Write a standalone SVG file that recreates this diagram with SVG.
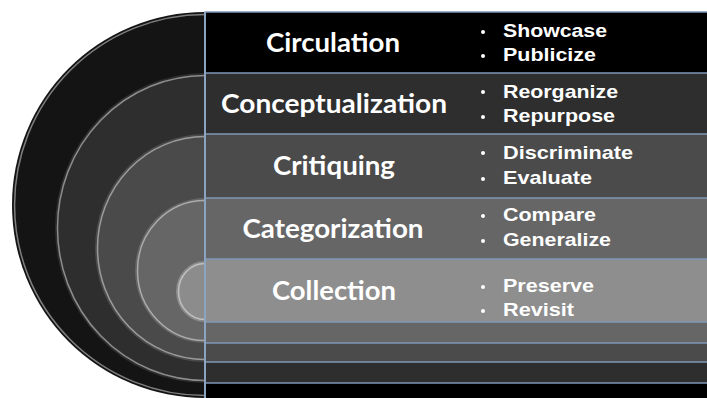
<svg xmlns="http://www.w3.org/2000/svg" width="707" height="398" viewBox="0 0 707 398">
<style>
.row{stroke:#7f98ba;stroke-width:1.5}
.hl{fill:none;stroke:#ffffff;stroke-opacity:0.45;stroke-width:1.5}
.title{font-family:Lato,"Open Sans",sans-serif;font-weight:700;font-size:27px;fill:#ffffff;text-anchor:middle}
.item{font-family:"Liberation Sans",Arial,sans-serif;font-weight:700;font-size:19px;fill:#ffffff}
.dot{fill:#ffffff}
</style>
<rect width="707" height="398" fill="#ffffff"/>
<g id="circulation">
<path d="M205,12 A193,193 0 0 0 205,398 Z" fill="#141414"/>
<path class="hl" d="M205,14.5 A190.5,190.5 0 0 0 205,395.5"/>
<rect class="row" x="205" y="12" width="503" height="390" fill="#000000"/>
<text class="title" x="333" y="52" textLength="134" lengthAdjust="spacingAndGlyphs">Circulation</text>
<circle class="dot" cx="483" cy="32" r="2"/>
<circle class="dot" cx="483" cy="56" r="2"/>
<text class="item" x="503" y="37" textLength="104" lengthAdjust="spacingAndGlyphs">Showcase</text>
<text class="item" x="503" y="61" textLength="93" lengthAdjust="spacingAndGlyphs">Publicize</text>
</g>
<g id="conceptualization">
<path d="M205,73 A150,155 0 0 0 205,383 Z" fill="#2e2e2e"/>
<path class="hl" d="M205,75.5 A147.5,152.5 0 0 0 205,380.5"/>
<rect class="row" x="205" y="73" width="503" height="310" fill="#2e2e2e"/>
<text class="title" x="334" y="113" textLength="226" lengthAdjust="spacingAndGlyphs">Conceptualization</text>
<circle class="dot" cx="483" cy="92" r="2"/>
<circle class="dot" cx="483" cy="117" r="2"/>
<text class="item" x="503" y="98" textLength="115" lengthAdjust="spacingAndGlyphs">Reorganize</text>
<text class="item" x="503" y="122" textLength="112" lengthAdjust="spacingAndGlyphs">Repurpose</text>
</g>
<g id="critiquing">
<path d="M205,134 A110,114 0 0 0 205,362 Z" fill="#4a4a4a"/>
<path class="hl" d="M205,136.5 A107.5,111.5 0 0 0 205,359.5"/>
<rect class="row" x="205" y="134" width="503" height="228" fill="#4b4b4b"/>
<text class="title" x="334" y="175" textLength="122" lengthAdjust="spacingAndGlyphs">Critiquing</text>
<circle class="dot" cx="483" cy="153" r="2"/>
<circle class="dot" cx="483" cy="179" r="2"/>
<text class="item" x="503" y="159" textLength="130" lengthAdjust="spacingAndGlyphs">Discriminate</text>
<text class="item" x="503" y="184" textLength="89" lengthAdjust="spacingAndGlyphs">Evaluate</text>
</g>
<g id="categorization">
<path d="M205,198 A70,72.5 0 0 0 205,343 Z" fill="#666666"/>
<path class="hl" d="M205,200.5 A67.5,70 0 0 0 205,340.5"/>
<rect class="row" x="205" y="198" width="503" height="145" fill="#666666"/>
<text class="title" x="333" y="238" textLength="181" lengthAdjust="spacingAndGlyphs">Categorization</text>
<circle class="dot" cx="483" cy="216" r="2"/>
<circle class="dot" cx="483" cy="241" r="2"/>
<text class="item" x="503" y="221" textLength="93" lengthAdjust="spacingAndGlyphs">Compare</text>
<text class="item" x="503" y="246" textLength="108" lengthAdjust="spacingAndGlyphs">Generalize</text>
</g>
<g id="collection">
<path d="M205,261 A29,30.5 0 0 0 205,322 Z" fill="#8c8c8c"/>
<path class="hl" d="M205,263.5 A26.5,28 0 0 0 205,319.5"/>
<rect class="row" x="205" y="259" width="503" height="63" fill="#8e8e8e"/>
<text class="title" x="334" y="300" textLength="124" lengthAdjust="spacingAndGlyphs">Collection</text>
<circle class="dot" cx="483" cy="287" r="2"/>
<circle class="dot" cx="483" cy="311" r="2"/>
<text class="item" x="503" y="292" textLength="91" lengthAdjust="spacingAndGlyphs">Preserve</text>
<text class="item" x="503" y="316" textLength="71" lengthAdjust="spacingAndGlyphs">Revisit</text>
</g>
<g id="connectors">
<line x1="205" y1="12" x2="205" y2="398" stroke="#8da3c2" stroke-width="2"/>
</g>
</svg>
